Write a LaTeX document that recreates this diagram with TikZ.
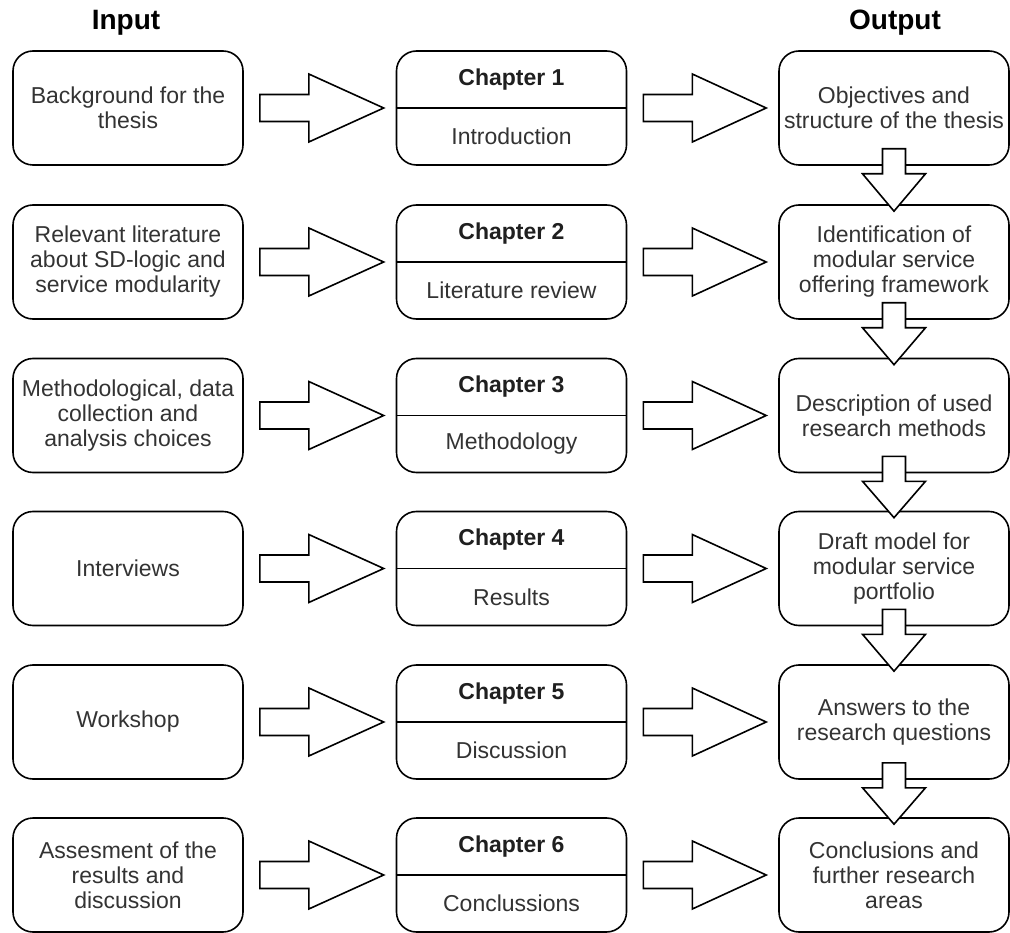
\documentclass[tikz,border=0pt]{standalone}
\usepackage{fontspec}
\setmainfont{Liberation Sans}
\usetikzlibrary{calc}

\tikzset{
  stage/.style={draw, line width=1.6pt, rounded corners=20pt, fill=white,
    minimum width=230pt, minimum height=114pt, inner sep=0pt,
    align=center, text=black!80, font=\fontsize{23}{25}\selectfont},
  chapbox/.style={stage},
  chaptitle/.style={font=\fontsize{23}{25}\selectfont\bfseries, text=black!88, inner sep=0pt},
  chapname/.style={font=\fontsize{23}{25}\selectfont, text=black!80, inner sep=0pt},
  heading/.style={font=\fontsize{28}{30}\selectfont\bfseries, text=black, inner sep=0pt},
  blockarrow/.style={draw, line width=1.6pt, fill=white, line join=miter},
  divider/.style={line width=1.6pt}
}

% block arrow pointing right, from the east side of #1 to the west side of #2
\newcommand\sidearrow[2]{%
  \draw[blockarrow]
    ($(#1.east)+(16,-13.5)$) -- ($(#1.east)+(65,-13.5)$) --
    ($(#1.east)+(65,-34)$) -- ($(#2.west)+(-12,0)$) --
    ($(#1.east)+(65,34)$) -- ($(#1.east)+(65,13.5)$) --
    ($(#1.east)+(16,13.5)$) -- cycle;}

% block arrow pointing down, overlapping the bottom of #1 and the top of #2
\newcommand\stackarrow[2]{%
  \draw[blockarrow]
    ($(#1.south)+(-11.5,-17)$) -- ($(#1.south)+(11.5,-17)$) --
    ($(#1.south)+(11.5,8)$) -- ($(#1.south)+(31.5,8)$) --
    ($(#2.north)+(0,7)$) --
    ($(#1.south)+(-31.5,8)$) -- ($(#1.south)+(-11.5,8)$) -- cycle;}

% chapter box: title above a divider, name below it
\newcommand\chapter[4]{%
  \node[chapbox] (#1) at (511.5,#2) {};
  \draw[divider] (#1.west) -- (#1.east);
  \node[chaptitle] (#1t) at ($(#1.center)+(0,-28.5)$) {#3};
  \node[chapname] (#1n) at ($(#1.center)+(0,28.5)$) {#4};}

\begin{document}
\begin{tikzpicture}[x=1pt, y=-1pt]
  \useasboundingbox (0,0) rectangle (1010,933);

  \node[heading] (hin) at (126,23) {Input};
  \node[heading] (hout) at (895,23) {Output};

  % input column
  \node[stage] (i1) at (128,108) {Background for the\\thesis};
  \node[stage] (i2) at (128,262) {Relevant literature\\about SD-logic and\\service modularity};
  \node[stage] (i3) at (128,415.5) {Methodological, data\\collection and\\analysis choices};
  \node[stage] (i4) at (128,568.5) {Interviews};
  \node[stage] (i5) at (128,722) {Workshop};
  \node[stage] (i6) at (128,875) {Assesment of the\\results and\\discussion};

  % chapter column
  \chapter{c1}{108}{Chapter 1}{Introduction}
  \chapter{c2}{262}{Chapter 2}{Literature review}
  \chapter{c3}{415.5}{Chapter 3}{Methodology}
  \chapter{c4}{568.5}{Chapter 4}{Results}
  \chapter{c5}{722}{Chapter 5}{Discussion}
  \chapter{c6}{875}{Chapter 6}{Conclussions}

  % output column
  \node[stage] (o1) at (894,108) {Objectives and\\structure of the thesis};
  \node[stage] (o2) at (894,262) {Identification of\\modular service\\offering framework};
  \node[stage] (o3) at (894,415.5) {Description of used\\research methods};
  \node[stage] (o4) at (894,568.5) {Draft model for\\modular service\\portfolio};
  \node[stage] (o5) at (894,722) {Answers to the\\research questions};
  \node[stage] (o6) at (894,875) {Conclusions and\\further research\\areas};

  % input -> chapter -> output
  \foreach \k in {1,...,6} {
    \sidearrow{i\k}{c\k}
    \sidearrow{c\k}{o\k}
  }

  % output chain
  \stackarrow{o1}{o2}
  \stackarrow{o2}{o3}
  \stackarrow{o3}{o4}
  \stackarrow{o4}{o5}
  \stackarrow{o5}{o6}
\end{tikzpicture}
\end{document}
